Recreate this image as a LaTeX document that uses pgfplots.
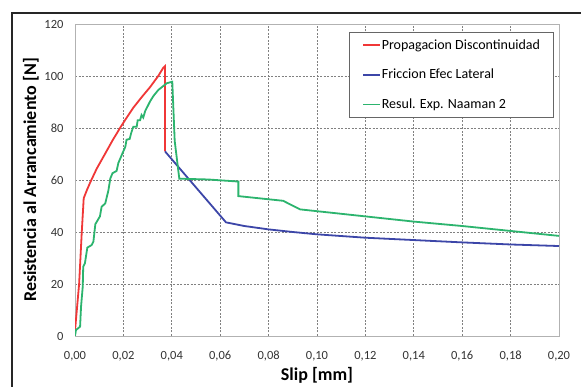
\documentclass[border=0pt]{standalone}
\usepackage{fontspec}
\setmainfont{Carlito}
\usepackage{pgfplots}
\pgfplotsset{compat=1.18}
\definecolor{cred}{RGB}{240,55,55}
\definecolor{cblue}{RGB}{60,70,168}
\definecolor{cgreen}{RGB}{44,180,110}
\begin{document}
\begin{tikzpicture}[x=1pt,y=1pt]
\useasboundingbox (0,0) rectangle (581,387);
\fill[white] (0,0) rectangle (581,387);
\draw[line width=2pt, black!85] (12,-2) -- (12,374) -- (583,374);
\begin{axis}[
  at={(75pt,51pt)}, anchor=south west,
  scale only axis, width=484pt, height=312pt,
  xmin=0, xmax=0.2, ymin=0, ymax=120,
  xtick={0,0.02,0.04,0.06,0.08,0.10,0.12,0.14,0.16,0.18,0.20},
  ytick={0,20,40,60,80,100,120},
  scaled x ticks=false,
  grid=major,
  major grid style={dash pattern=on 2pt off 1.5pt, black!50, line width=0.7pt},
  axis line style={black!30, line width=0.9pt},
  major tick length=0pt,
  /pgf/number format/assume math mode=true,
  ticklabel style={font=\fontsize{12.5}{14}\selectfont, text=black!80},
  xticklabel style={/pgf/number format/.cd, fixed, fixed zerofill, precision=2, use comma, /tikz/.cd, anchor=base, yshift=-24pt},
  yticklabel style={anchor=east, xshift=-8pt},
  xlabel={Slip [mm]},
  ylabel={Resistencia al Arrancamiento [N]},
  label style={font=\bfseries\fontsize{18}{20}\selectfont},
  xlabel style={at={(axis description cs:0.5,-0.1442)}, anchor=base},
  ylabel style={at={(axis description cs:-0.0909,0.5)}, anchor=center},
  legend style={at={(axis description cs:1,1)}, anchor=north east, xshift=-5pt, yshift=-8pt,
    draw=black!60, line width=0.8pt, font=\fontsize{14}{16}\selectfont,
    inner xsep=13pt, inner ysep=5pt, row sep=14.5pt,
    nodes={inner xsep=0.5pt}},
  legend cell align=left,
  legend image code/.code={\draw[#1] (0pt,0pt) -- (17pt,0pt);},
]
\addplot[cred, line width=1.8pt] coordinates {
(0,2) (0.0017,20) (0.0028,40) (0.0036,53) (0.0050,56.3) (0.0064,59.3) (0.009,64.4)
(0.0125,70.2) (0.0155,75.2) (0.0186,80) (0.0215,84.2) (0.0241,87.8) (0.0275,91.8)
(0.031,95.7) (0.0344,100) (0.0365,103.2) (0.0372,103.8) (0.0372,71)
};
\addlegendentry{Propagacion Discontinuidad}
\addplot[cblue, line width=1.8pt] coordinates {
(0.0372,71) (0.0624,43.7) (0.07,42.3) (0.08,41) (0.09,40) (0.10,39.1) (0.12,37.8)
(0.14,36.9) (0.16,36) (0.18,35.2) (0.20,34.6)
};
\addlegendentry{Friccion Efec Lateral}
\addplot[cgreen, line width=1.8pt] coordinates {
(0,0) (0.0004,2.3) (0.0021,3.6) (0.0025,11.3) (0.0032,19) (0.0034,26.7) (0.0041,28)
(0.0051,34) (0.0069,35) (0.0076,36.3) (0.0084,43) (0.0103,46) (0.011,49.7) (0.0125,51)
(0.0138,56) (0.0146,60.6) (0.0155,62.6) (0.0172,63.5) (0.0179,66.5) (0.0195,70)
(0.0208,72.8) (0.0213,75.5) (0.0226,75.8) (0.0232,78) (0.0241,80.5) (0.0255,80.5)
(0.0259,83) (0.0269,83) (0.0275,85) (0.0282,84) (0.029,86.5) (0.031,90.2) (0.0324,92.3)
(0.0344,94.6) (0.0379,97.2) (0.0402,97.8) (0.0412,75) (0.0431,60.5) (0.055,60.2)
(0.0675,59.4) (0.0675,53.8) (0.086,52) (0.093,48.7) (0.13,45) (0.14,44) (0.16,42.3)
(0.18,40.4) (0.20,38.5)
};
\addlegendentry{Resul. Exp. Naaman 2}
\end{axis}
\end{tikzpicture}
\end{document}
